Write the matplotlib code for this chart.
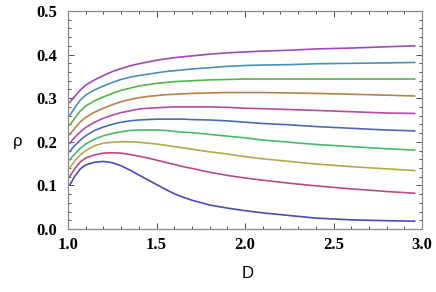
import colorsys
import matplotlib
matplotlib.use("Agg")
import matplotlib.pyplot as plt
from matplotlib.ticker import MultipleLocator

# sampled points along D
D = [1.01, 1.02, 1.04, 1.07, 1.10, 1.15, 1.20, 1.25, 1.30, 1.35, 1.40, 1.45,
     1.50, 1.55, 1.60, 1.65, 1.70, 1.80, 1.90, 2.00, 2.10, 2.25, 2.40, 2.60,
     2.80, 2.96]

# curves from bottom to top
rho1 = [0.101, 0.108, 0.122, 0.138, 0.147, 0.153, 0.155, 0.152, 0.145, 0.135,
        0.124, 0.113, 0.102, 0.091, 0.081, 0.073, 0.066, 0.055, 0.048, 0.042,
        0.037, 0.031, 0.025, 0.021, 0.019, 0.018]
rho2 = [0.120, 0.127, 0.139, 0.154, 0.163, 0.170, 0.174, 0.175, 0.174, 0.171,
        0.167, 0.163, 0.158, 0.153, 0.148, 0.143, 0.139, 0.130, 0.123, 0.117,
        0.112, 0.105, 0.099, 0.092, 0.086, 0.082]
rho3 = [0.140, 0.146, 0.157, 0.170, 0.180, 0.191, 0.197, 0.199, 0.200, 0.200,
        0.199, 0.197, 0.195, 0.192, 0.189, 0.186, 0.183, 0.177, 0.172, 0.166,
        0.161, 0.155, 0.149, 0.143, 0.138, 0.134]
rho4 = [0.158, 0.164, 0.173, 0.185, 0.195, 0.206, 0.214, 0.219, 0.223, 0.226,
        0.227, 0.227, 0.227, 0.226, 0.224, 0.222, 0.221, 0.217, 0.213, 0.209,
        0.204, 0.199, 0.194, 0.189, 0.184, 0.181]
rho5 = [0.177, 0.183, 0.192, 0.204, 0.214, 0.226, 0.234, 0.240, 0.245, 0.248,
        0.250, 0.251, 0.252, 0.252, 0.252, 0.252, 0.251, 0.250, 0.248, 0.245,
        0.242, 0.239, 0.235, 0.231, 0.227, 0.225]
rho6 = [0.196, 0.202, 0.211, 0.223, 0.233, 0.245, 0.254, 0.261, 0.267, 0.271,
        0.275, 0.277, 0.278, 0.279, 0.280, 0.280, 0.280, 0.280, 0.279, 0.277,
        0.276, 0.274, 0.272, 0.269, 0.266, 0.265]
rho7 = [0.216, 0.222, 0.232, 0.246, 0.256, 0.268, 0.277, 0.285, 0.292, 0.297,
        0.301, 0.304, 0.306, 0.308, 0.309, 0.310, 0.311, 0.312, 0.313, 0.313,
        0.313, 0.312, 0.311, 0.309, 0.307, 0.305]
rho8 = [0.238, 0.244, 0.255, 0.271, 0.282, 0.294, 0.303, 0.311, 0.318, 0.323,
        0.328, 0.331, 0.334, 0.336, 0.338, 0.339, 0.340, 0.342, 0.343, 0.344,
        0.344, 0.344, 0.344, 0.344, 0.344, 0.344]
rho9 = [0.261, 0.267, 0.279, 0.296, 0.307, 0.319, 0.328, 0.336, 0.343, 0.348,
        0.352, 0.355, 0.358, 0.361, 0.363, 0.365, 0.367, 0.370, 0.373, 0.375,
        0.376, 0.377, 0.379, 0.380, 0.381, 0.382]
rho10 = [0.290, 0.296, 0.305, 0.319, 0.330, 0.342, 0.352, 0.361, 0.368, 0.374,
         0.379, 0.383, 0.387, 0.390, 0.393, 0.395, 0.397, 0.401, 0.404, 0.406,
         0.408, 0.410, 0.413, 0.415, 0.418, 0.420]

curves = [rho1, rho2, rho3, rho4, rho5, rho6, rho7, rho8, rho9, rho10]

# Mathematica-like default hues
hues = [0.67, 0.906, 0.142, 0.378, 0.614, 0.850, 0.086, 0.322, 0.559, 0.795]
colors = [colorsys.hsv_to_rgb(h, 0.6, 0.72) for h in hues]

fig = plt.figure(figsize=(4.36, 2.92), dpi=100)
ax = fig.add_axes([68 / 436, 63 / 292, 354 / 436, 218 / 292])

for rho, c in zip(curves, colors):
    ax.plot(D, rho, color=c, lw=1.2, solid_capstyle="round")

ax.set_xlim(1.0, 3.0)
ax.set_ylim(0.0, 0.5)
ax.xaxis.set_major_locator(MultipleLocator(0.5))
ax.xaxis.set_minor_locator(MultipleLocator(0.1))
ax.yaxis.set_major_locator(MultipleLocator(0.1))
ax.yaxis.set_minor_locator(MultipleLocator(0.02))
ax.xaxis.set_major_formatter(lambda v, p: f"{v:.1f}")
ax.yaxis.set_major_formatter(lambda v, p: f"{v:.1f}")

ax.tick_params(which="both", direction="in", top=True, right=True,
               color="#333333", width=0.6)
ax.tick_params(which="major", length=4.5)
ax.tick_params(which="minor", length=2.2)
ax.tick_params(axis="y", pad=8)
ax.tick_params(axis="x", pad=6)
for lab in ax.get_xticklabels() + ax.get_yticklabels():
    lab.set_family("Liberation Serif")
    lab.set_fontweight("bold")
    lab.set_fontsize(12)

for s in ax.spines.values():
    s.set_color("#8a8a8a")
    s.set_linewidth(0.9)

fig.text(18 / 436, 1 - 142 / 292, "ρ", family="Liberation Sans", fontsize=12,
         ha="center", va="center")
fig.text(248 / 436, 1 - 274 / 292, "D", family="Liberation Sans", fontsize=12,
         ha="center", va="center")

fig.savefig("out.png", dpi=100)
